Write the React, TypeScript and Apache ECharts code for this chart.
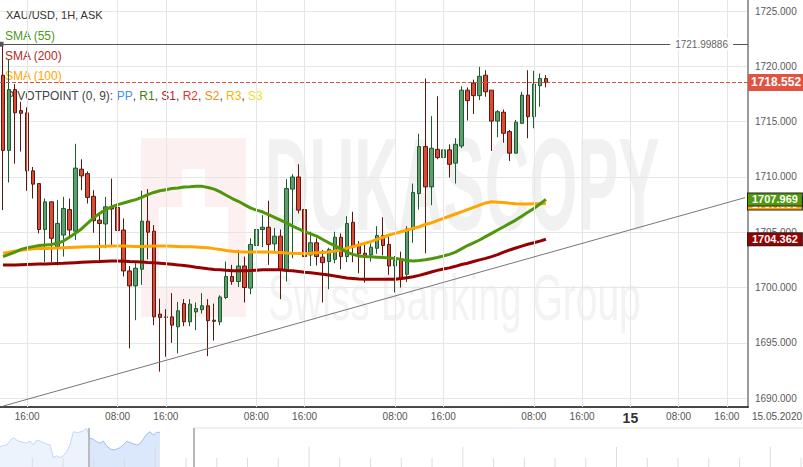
import React, { useEffect, useRef } from "react";
import * as echarts from "echarts";

// ---------- data ----------
const SLOT_COUNT = 124; // hourly slots visible (data + future)
const categories = Array.from({ length: SLOT_COUNT }, (_, i) => String(i));

const tickIndex = [4, 19, 27, 42, 50, 65, 73, 88, 96, 104, 112, 120];
const tickText = ["16:00", "08:00", "16:00", "08:00", "16:00", "08:00", "16:00", "08:00", "16:00", "15", "08:00", "16:00"];

const opens = [
  1719.2, 1712.4, 1717.9, 1716.0, 1715.8, 1710.55, 1709.4, 1705.25, 1707.75, 1703.7,
  1704.75, 1707.05, 1705.1, 1710.7, 1710.3, 1708.25, 1706.1, 1705.75, 1707.3, 1707.25,
  1705.2, 1701.5, 1700.15, 1701.65, 1706.0, 1705.1, 1697.6, 1697.35, 1697.35, 1696.45,
  1698.55, 1696.9, 1697.8, 1698.0, 1698.35, 1697.05, 1696.9, 1699.1, 1701.0, 1700.55,
  1701.95, 1699.95, 1703.8, 1705.25, 1705.45, 1703.95, 1704.65, 1701.6, 1708.9, 1710.0,
  1707.05, 1702.95, 1704.05, 1702.75, 1702.35, 1702.55, 1704.55, 1702.8, 1705.9, 1703.8,
  1703.1, 1702.95, 1703.55, 1704.7, 1703.9, 1701.95, 1702.55, 1701.2, 1705.25, 1708.5,
  1712.75, 1709.1, 1712.5, 1711.75, 1712.45, 1711.25, 1712.8, 1717.85, 1718.5, 1717.35,
  1719.2, 1717.85, 1715.05, 1715.85, 1714.1, 1712.15, 1714.85, 1717.4, 1715.45, 1718.25,
  1718.9,
];
const closes = [
  1712.4, 1717.9, 1715.8, 1715.75, 1710.55, 1709.35, 1705.25, 1707.75, 1704.45, 1705.8,
  1707.15, 1705.2, 1710.8, 1710.1, 1708.15, 1706.05, 1705.8, 1707.3, 1707.1, 1705.15,
  1701.5, 1700.15, 1701.75, 1706.0, 1705.0, 1697.35, 1697.3, 1697.3, 1696.6, 1697.9,
  1696.9, 1698.5, 1698.1, 1698.35, 1697.0, 1696.95, 1699.15, 1701.0, 1700.55, 1701.95,
  1700.0, 1703.9, 1705.25, 1705.45, 1703.9, 1704.65, 1701.6, 1708.95, 1710.0, 1707.0,
  1702.8, 1704.05, 1702.8, 1702.25, 1703.45, 1704.55, 1702.8, 1705.8, 1703.65, 1703.05,
  1702.9, 1703.65, 1704.7, 1703.8, 1701.95, 1702.45, 1700.75, 1705.3, 1708.6, 1712.75,
  1709.1, 1712.6, 1711.75, 1712.45, 1711.15, 1712.95, 1717.85, 1716.9, 1717.35, 1719.1,
  1717.7, 1715.05, 1715.9, 1713.95, 1712.15, 1714.95, 1717.4, 1715.45, 1718.4, 1718.9,
  1718.55,
];
const lows = [
  1707.0, 1709.5, 1711.2, 1712.3, 1708.75, 1708.05, 1704.9, 1702.3, 1702.3, 1702.0,
  1702.8, 1704.6, 1704.3, 1708.8, 1707.6, 1704.95, 1702.2, 1703.55, 1703.75, 1704.25,
  1701.0, 1694.5, 1697.05, 1700.25, 1702.55, 1696.6, 1692.4, 1693.75, 1695.0, 1694.05,
  1696.5, 1696.5, 1696.15, 1697.65, 1693.8, 1695.2, 1696.6, 1698.95, 1700.25, 1700.05,
  1698.65, 1699.4, 1703.15, 1703.65, 1702.05, 1703.25, 1698.95, 1700.55, 1702.65, 1706.7,
  1701.95, 1701.95, 1702.0, 1698.65, 1699.85, 1702.2, 1701.65, 1702.3, 1702.3, 1701.3,
  1700.45, 1702.35, 1703.05, 1702.9, 1701.15, 1699.55, 1700.0, 1700.5, 1704.05, 1707.05,
  1703.1, 1707.45, 1711.6, 1708.05, 1709.95, 1709.4, 1712.6, 1715.1, 1715.7, 1716.95,
  1717.25, 1712.35, 1713.6, 1713.1, 1711.45, 1712.15, 1714.85, 1713.5, 1714.4, 1716.35,
  1718.1,
];
const highs = [
  1722.1, 1720.6, 1718.4, 1716.8, 1716.3, 1710.9, 1709.4, 1708.05, 1707.75, 1707.9,
  1708.2, 1708.05, 1713.0, 1711.6, 1710.5, 1708.8, 1706.55, 1708.2, 1709.85, 1708.55,
  1706.25, 1701.95, 1702.2, 1708.75, 1708.9, 1705.65, 1699.0, 1698.05, 1699.5, 1698.7,
  1698.95, 1698.95, 1698.65, 1699.5, 1698.95, 1698.55, 1699.3, 1702.35, 1702.05, 1703.4,
  1702.8, 1704.45, 1707.0, 1706.55, 1707.85, 1705.4, 1705.25, 1709.8, 1710.25, 1711.15,
  1707.9, 1705.05, 1704.45, 1703.4, 1703.6, 1705.05, 1704.9, 1706.45, 1706.85, 1704.2,
  1704.0, 1704.0, 1705.55, 1706.35, 1704.65, 1702.85, 1703.25, 1705.55, 1709.4, 1713.9,
  1718.9, 1715.5, 1717.3, 1713.35, 1712.95, 1713.5, 1718.2, 1718.1, 1718.8, 1719.95,
  1719.65, 1717.85, 1716.05, 1716.1, 1714.25, 1715.15, 1717.7, 1719.65, 1719.6, 1719.35,
  1719.2,
];

const sma55 = [
  1702.8, 1703.0, 1703.2, 1703.45, 1703.6, 1703.7, 1703.8, 1703.85, 1703.9, 1704.0,
  1704.2, 1704.55, 1704.9, 1705.3, 1705.8, 1706.3, 1706.7, 1707.05, 1707.3, 1707.5,
  1707.65, 1707.8, 1707.95, 1708.15, 1708.4, 1708.6, 1708.75, 1708.85, 1708.95, 1709.0,
  1709.1, 1709.12, 1709.15, 1709.15, 1709.05, 1708.9, 1708.65, 1708.35, 1708.05, 1707.8,
  1707.5, 1707.2, 1707.0, 1706.85, 1706.6, 1706.35, 1706.1, 1705.85, 1705.55, 1705.3,
  1705.05, 1704.85, 1704.65, 1704.35, 1704.05, 1703.8, 1703.5, 1703.2, 1703.0, 1702.85,
  1702.8, 1702.78, 1702.75, 1702.72, 1702.68, 1702.62, 1702.55, 1702.45, 1702.4, 1702.45,
  1702.52, 1702.6, 1702.72, 1702.85, 1703.0, 1703.2, 1703.5, 1703.8, 1704.05, 1704.3,
  1704.6, 1704.9, 1705.2, 1705.5, 1705.8, 1706.1, 1706.45, 1706.8, 1707.15, 1707.55,
  1707.969,
];
const sma100 = [
  1703.1, 1703.2, 1703.3, 1703.38, 1703.45, 1703.5, 1703.52, 1703.54, 1703.56, 1703.58,
  1703.6, 1703.62, 1703.64, 1703.66, 1703.68, 1703.7, 1703.72, 1703.74, 1703.75, 1703.75,
  1703.75, 1703.74, 1703.72, 1703.72, 1703.73, 1703.75, 1703.75, 1703.75, 1703.74, 1703.72,
  1703.7, 1703.68, 1703.66, 1703.63, 1703.6, 1703.52, 1703.45, 1703.35, 1703.28, 1703.24,
  1703.22, 1703.22, 1703.22, 1703.22, 1703.22, 1703.2, 1703.16, 1703.12, 1703.1, 1703.09,
  1703.08, 1703.1, 1703.14, 1703.18, 1703.22, 1703.3, 1703.4, 1703.55, 1703.7, 1703.85,
  1704.0, 1704.15, 1704.35, 1704.55, 1704.75, 1704.9, 1705.05, 1705.2, 1705.35, 1705.5,
  1705.7, 1705.85, 1706.05, 1706.25, 1706.45, 1706.65, 1706.85, 1707.05, 1707.25, 1707.45,
  1707.65, 1707.75, 1707.72, 1707.68, 1707.62, 1707.58, 1707.56, 1707.56, 1707.57, 1707.58,
  1707.6,
];
const sma200 = [
  1702.03, 1702.03, 1702.04, 1702.06, 1702.08, 1702.1, 1702.12, 1702.13, 1702.15, 1702.17,
  1702.19, 1702.22, 1702.25, 1702.28, 1702.31, 1702.33, 1702.35, 1702.38, 1702.4, 1702.4,
  1702.38, 1702.35, 1702.33, 1702.3, 1702.26, 1702.24, 1702.2, 1702.15, 1702.1, 1702.05,
  1701.99, 1701.92, 1701.84, 1701.77, 1701.7, 1701.64, 1701.6, 1701.56, 1701.53, 1701.52,
  1701.52, 1701.54, 1701.57, 1701.6, 1701.62, 1701.62, 1701.6, 1701.55, 1701.52, 1701.45,
  1701.38, 1701.33, 1701.28, 1701.2, 1701.13, 1701.05, 1700.95, 1700.86, 1700.82, 1700.78,
  1700.75, 1700.74, 1700.74, 1700.74, 1700.74, 1700.76, 1700.82, 1700.89, 1700.98, 1701.1,
  1701.25, 1701.4, 1701.55, 1701.68, 1701.78, 1701.92, 1702.08, 1702.2, 1702.35, 1702.5,
  1702.64, 1702.8, 1702.98, 1703.2, 1703.4, 1703.58, 1703.75, 1703.92, 1704.05, 1704.2,
  1704.362,
];

const sma55Last = 1707.969;
const sma100Last = 1707.6;
const sma200Last = 1704.362;

const rayLevel = 1721.99886;
const askLevel = 1718.552;
const trendFrom = [0, 1689.28];
const trendTo = [123, 1708.13];

// overview (navigator) closes, one point every ~4 hours
const navPrices = [
  1701, 1702.5, 1703, 1708, 1711.8, 1709, 1707, 1706, 1705.5, 1707.8,
  1703, 1709, 1707.8, 1706, 1704, 1703, 1688, 1690, 1688, 1690,
  1695, 1703, 1719, 1718, 1718.5, 1720, 1723, 1711, 1710, 1707,
  1705, 1707.8, 1702, 1698.5, 1697, 1698, 1699.8, 1703, 1707.5, 1706,
  1704.5, 1703, 1704.5, 1710, 1716, 1719, 1715, 1718.2, 1718.2,
];
const navSplit = 27;

// ---------- chart ----------
const FONT = "'Liberation Sans', Arial, sans-serif";
const CLEAR = "rgba(0,0,0,0)";

function buildOption() {
  const candles = opens.map((o, i) => [o, closes[i], lows[i], highs[i]]);
  const navLight = navPrices.slice(0, navSplit + 1).map((p, i) => [i, p]);
  const navDark = navPrices.slice(navSplit).map((p, i) => [i + navSplit, p]);

  const sideLabel = (bg: string, txt: string) => ({
    show: true,
    position: "end",
    distance: 0,
    formatter: txt,
    color: "#fff",
    fontWeight: "bold",
    fontSize: 11,
    fontFamily: FONT,
    lineHeight: 11,
    backgroundColor: bg,
    borderColor: "#222",
    borderWidth: 1,
    padding: [1, 4, 0, 4],
  });

  const navTicks: any[] = [];
  for (let k = 0; k < 26; k++) {
    const x = 32.3 + 30.75 * k;
    const tall = (k - 4) % 5 === 0;
    navTicks.push({
      type: "line",
      z: 5,
      silent: true,
      shape: { x1: x, y1: tall ? 447 : 458, x2: x, y2: 467 },
      style: { stroke: "#dcdcdc", lineWidth: 1 },
    });
  }

  const graphics: any[] = [
    // watermark
    { type: "rect", z: -10, silent: true, shape: { x: 141, y: 138, width: 105, height: 179 }, style: { fill: "#fdf0f0" } },
    { type: "rect", z: -10, silent: true, shape: { x: 182, y: 169, width: 23, height: 40 }, style: { fill: "#ffffff" } },
    { type: "rect", z: -10, silent: true, shape: { x: 159, y: 207, width: 69, height: 79 }, style: { fill: "#ffffff" } },
    {
      type: "text", z: -10, silent: true, x: 265, y: 185, scaleX: 0.468,
      style: { text: "DUKASCOPY", fill: "#f1f1f1", fontSize: 132, fontWeight: "bold", fontFamily: FONT, verticalAlign: "middle" },
    },
    {
      type: "text", z: -10, silent: true, x: 268, y: 297, scaleX: 0.6,
      style: { text: "Swiss Banking Group", fill: "#f3f3f3", fontSize: 65, fontFamily: FONT, verticalAlign: "middle" },
    },
    // legend texts
    { type: "text", z: 1, x: 6, y: 15, style: { text: "XAU/USD, 1H, ASK", fill: "#333", fontSize: 11, fontFamily: FONT, verticalAlign: "middle" } },
    { type: "text", z: 1, x: 5, y: 36, style: { text: "SMA (55)", fill: "#4d9a1a", fontSize: 12, fontFamily: FONT, verticalAlign: "middle" } },
    { type: "text", z: 1, x: 5, y: 56, style: { text: "SMA (200)", fill: "#b02a2a", fontSize: 12, fontFamily: FONT, verticalAlign: "middle" } },
    { type: "text", z: 1, x: 5, y: 76, style: { text: "SMA (100)", fill: "#ffa500", fontSize: 12, fontFamily: FONT, verticalAlign: "middle" } },
    {
      type: "text", z: 1, x: 6, y: 96,
      style: {
        text: "PIVOTPOINT (0, 9): {pp|PP}, {r1|R1}, {s1|S1}, {r2|R2}, {s2|S2}, {r3|R3}, {s3|S3}",
        fill: "#444", fontSize: 12, fontFamily: FONT, verticalAlign: "middle",
        rich: {
          pp: { fill: "#4a8fe7", fontSize: 12, fontFamily: FONT },
          r1: { fill: "#3d7f13", fontSize: 12, fontFamily: FONT },
          s1: { fill: "#a52828", fontSize: 12, fontFamily: FONT },
          r2: { fill: "#e8322a", fontSize: 12, fontFamily: FONT },
          s2: { fill: "#f28c0f", fontSize: 12, fontFamily: FONT },
          r3: { fill: "#f5b400", fontSize: 12, fontFamily: FONT },
          s3: { fill: "#f5e11a", fontSize: 12, fontFamily: FONT },
        },
      },
    },
    // date at right of x-axis
    { type: "text", z: 5, x: 752, y: 416, style: { text: "15.05.2020", fill: "#555", fontSize: 10, fontFamily: FONT, verticalAlign: "middle" } },
    // navigator decorations
    { type: "line", z: 5, silent: true, shape: { x1: 194, y1: 428, x2: 803, y2: 428 }, style: { stroke: "#e0e0e0", lineWidth: 1 } },
    { type: "line", z: 6, silent: true, shape: { x1: 89, y1: 428, x2: 89, y2: 467 }, style: { stroke: "#a8a8a8", lineWidth: 1.5 } },
    { type: "line", z: 6, silent: true, shape: { x1: 194, y1: 428, x2: 194, y2: 467 }, style: { stroke: "#a0a0a0", lineWidth: 1.5 } },
    ...navTicks,
  ];

  return {
    animation: false,
    textStyle: { fontFamily: FONT },
    graphic: graphics,
    grid: [
      { left: 0, right: 55, top: 0, height: 407 },
      { left: 0, right: 0, top: 428, height: 39 },
    ],
    xAxis: [
      {
        type: "category",
        gridIndex: 0,
        data: categories,
        boundaryGap: true,
        axisLine: { show: true, lineStyle: { color: "#111", width: 1.5 } },
        axisTick: { show: false },
        splitLine: { show: false },
        axisLabel: {
          interval: (index: number) => tickIndex.includes(index),
          formatter: (_v: string, index: number) => {
            const k = tickIndex.indexOf(index);
            if (k < 0) return "";
            const t = tickText[k];
            return t === "15" ? "{day|15}" : t;
          },
          color: "#555",
          fontSize: 10,
          margin: 4,
          rich: { day: { fontSize: 14, fontWeight: "bold", color: "#333" } },
        },
      },
      { type: "value", gridIndex: 1, min: 0, max: 241, show: false },
    ],
    yAxis: [
      {
        type: "value",
        gridIndex: 0,
        position: "right",
        min: 1689.2,
        max: 1726.0,
        splitNumber: 7,
        minInterval: 5,
        maxInterval: 5,
        axisLine: { show: true, lineStyle: { color: "#9a9a9a", width: 2 } },
        axisTick: { show: false },
        axisLabel: {
          color: "#5a5a5a",
          fontSize: 10,
          margin: 7,
          showMinLabel: false,
          showMaxLabel: false,
          formatter: (v: number) => (Math.abs(v / 5 - Math.round(v / 5)) < 1e-6 ? v.toFixed(3) : ""),
        },
        splitLine: { show: true, showMaxLine: false, lineStyle: { color: "#e6e6e6", width: 1 } },
      },
      { type: "value", gridIndex: 1, min: 1676.6, max: 1723.4, show: false },
    ],
    series: [
      {
        type: "line",
        xAxisIndex: 0,
        yAxisIndex: 0,
        data: [],
        z: 1,
        silent: true,
        markLine: {
          silent: true,
          symbol: "none",
          label: { show: false },
          lineStyle: { color: "#e6e6e6", width: 1, type: "solid" },
          data: tickIndex.map((i) => ({ xAxis: i })),
        },
      },
      {
        type: "candlestick",
        xAxisIndex: 0,
        yAxisIndex: 0,
        data: candles,
        barWidth: 4,
        z: 2,
        itemStyle: {
          color: "#5c9e6f",
          color0: "#dc4a33",
          borderColor: "#1f5a2c",
          borderColor0: "#5a1810",
          borderWidth: 1,
        },
        markLine: {
          silent: true,
          symbol: "none",
          label: { show: false },
          data: [
            {
              yAxis: rayLevel,
              symbol: ["arrow", "arrow"],
              symbolSize: [5, 7],
              lineStyle: { color: "#555", width: 1, type: "solid" },
              label: {
                show: true,
                position: "insideEnd",
                distance: 15,
                formatter: "1721.99886",
                color: "#666",
                fontSize: 10,
                backgroundColor: "#fff",
                padding: [1, 5],
              },
            },
            {
              yAxis: askLevel,
              lineStyle: { color: "#d9503c", width: 1, type: "dashed" },
              label: {
                show: true,
                position: "end",
                distance: 0,
                formatter: "1718.552",
                color: "#fff",
                fontWeight: "bold",
                fontSize: 12,
                backgroundColor: "#df5340",
                padding: [3, 3, 2, 3],
              },
            },
            [
              { coord: trendFrom, lineStyle: { color: "#777", width: 1, type: "solid" } },
              { coord: trendTo },
            ],
          ],
        },
      },
      {
        type: "line",
        name: "SMA (200)",
        xAxisIndex: 0,
        yAxisIndex: 0,
        data: sma200,
        symbol: "none",
        z: 3,
        lineStyle: { color: "#960000", width: 3 },
        markLine: {
          silent: true,
          symbol: "none",
          lineStyle: { color: CLEAR, width: 1 },
          data: [{ yAxis: sma200Last, label: sideLabel("#990000", "1704.362") }],
        },
      },
      {
        type: "line",
        name: "SMA (100)",
        xAxisIndex: 0,
        yAxisIndex: 0,
        data: sma100,
        symbol: "none",
        z: 3,
        lineStyle: { color: "#ffa500", width: 3 },
        markLine: {
          silent: true,
          symbol: "none",
          lineStyle: { color: CLEAR, width: 1 },
          data: [{ yAxis: sma100Last, label: sideLabel("#ffa500", "1707.600") }],
        },
      },
      {
        type: "line",
        name: "SMA (55)",
        xAxisIndex: 0,
        yAxisIndex: 0,
        data: sma55,
        symbol: "none",
        z: 3,
        lineStyle: { color: "#4f960c", width: 3 },
        markLine: {
          silent: true,
          symbol: "none",
          lineStyle: { color: CLEAR, width: 1 },
          data: [{ yAxis: sma55Last, label: sideLabel("#4f9a0c", "1707.969") }],
        },
      },
      {
        type: "line",
        xAxisIndex: 1,
        yAxisIndex: 1,
        data: navLight,
        symbol: "none",
        silent: true,
        lineStyle: { color: "#c3d7f5", width: 1 },
        areaStyle: { color: "#edf3fd", opacity: 1 },
      },
      {
        type: "line",
        xAxisIndex: 1,
        yAxisIndex: 1,
        data: navDark,
        symbol: "none",
        silent: true,
        lineStyle: { color: "#9dbff3", width: 1 },
        areaStyle: { color: "#dbe7fb", opacity: 1 },
      },
    ],
  };
}

export default function App() {
  const ref = useRef<HTMLDivElement>(null);
  useEffect(() => {
    if (!ref.current) return;
    const chart = echarts.init(ref.current, undefined, { renderer: "svg" });
    chart.setOption(buildOption() as any);
    return () => chart.dispose();
  }, []);
  return (
    <div
      ref={ref}
      style={{ position: "fixed", left: 0, top: 0, width: 803, height: 467, background: "#fff" }}
    />
  );
}
